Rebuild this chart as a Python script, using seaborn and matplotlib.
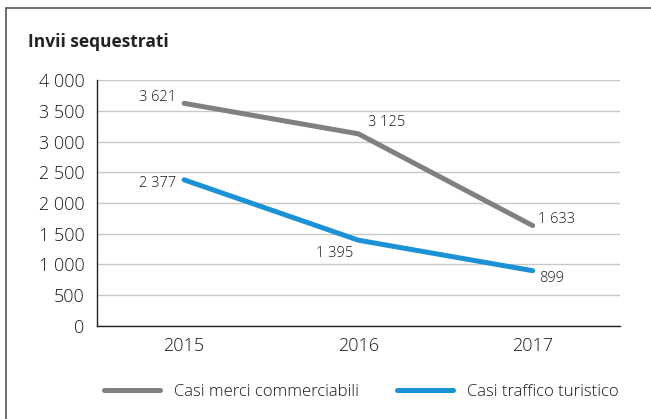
import pandas as pd
import matplotlib.pyplot as plt
import seaborn as sns

# Data
years = ['2015', '2016', '2017']
commerciali = [3621, 3125, 1633]
turistico = [2377, 1395, 899]
series_names = ['Casi merci commerciabili', 'Casi traffico turistico']

df = pd.DataFrame({
    'pos': list(range(len(years))) * 2,
    'valore': commerciali + turistico,
    'serie': [series_names[0]] * 3 + [series_names[1]] * 3,
})

sns.set_style('white')
plt.rcParams['font.family'] = ['Open Sans', 'DejaVu Sans']
plt.rcParams['font.weight'] = 'light'

fig = plt.figure(figsize=(6.51, 4.19), dpi=100)
ax = fig.add_axes([0.149, 0.222, 0.803, 0.587])

palette = {series_names[0]: '#808083', series_names[1]: '#1b91d6'}
sns.lineplot(data=df, x='pos', y='valore', hue='serie', palette=palette,
             linewidth=3.6, ax=ax, legend=True, solid_capstyle='round')

# y axis
ax.set_ylim(0, 4000)
ax.set_yticks(range(0, 4001, 500))
ax.set_yticklabels([f'{v:,}'.replace(',', ' ') for v in range(0, 4001, 500)],
                   fontsize=13, color='#1a1a1a')
ax.yaxis.grid(True, color='#c8c8c8', linewidth=1)
ax.set_axisbelow(True)

# x axis: categories with ticks between them
ax.set_xlim(-0.5, 2.5)
ax.set_xticks([-0.5, 0.5, 1.5, 2.5])
ax.set_xticklabels([])
ax.set_xticks(range(3), minor=True)
ax.set_xticklabels(years, minor=True, fontsize=13, color='#1a1a1a')
ax.tick_params(axis='x', which='minor', length=0, pad=8)
ax.tick_params(axis='x', which='major', length=5, color='#999999', direction='out')
ax.tick_params(axis='y', length=5, color='#999999', direction='out', pad=4)
ax.set_xlabel('')
ax.set_ylabel('')

for s in ['top', 'right']:
    ax.spines[s].set_visible(False)
ax.spines['left'].set_color('#222222')
ax.spines['bottom'].set_color('#222222')
ax.spines['left'].set_linewidth(1)
ax.spines['bottom'].set_linewidth(1)

# data labels
def fmt(v):
    return f'{v:,}'.replace(',', ' ')

lab = dict(fontsize=10.5, color='#1a1a1a')
ax.annotate(fmt(commerciali[0]), (0, commerciali[0]), xytext=(-6, -1),
            textcoords='offset points', ha='right', va='bottom', **lab)
ax.annotate(fmt(commerciali[1]), (1, commerciali[1]), xytext=(7, 3),
            textcoords='offset points', ha='left', va='bottom', **lab)
ax.annotate(fmt(commerciali[2]), (2, commerciali[2]), xytext=(4, -1),
            textcoords='offset points', ha='left', va='bottom', **lab)
ax.annotate(fmt(turistico[0]), (0, turistico[0]), xytext=(-6, -3),
            textcoords='offset points', ha='right', va='center', **lab)
ax.annotate(fmt(turistico[1]), (1, turistico[1]), xytext=(-4, -4),
            textcoords='offset points', ha='right', va='top', **lab)
ax.annotate(fmt(turistico[2]), (2, turistico[2]), xytext=(5, 0),
            textcoords='offset points', ha='left', va='top', **lab)

# legend at the bottom
handles, labels = ax.get_legend_handles_labels()
ax.get_legend().remove()
fig.legend(handles, labels, loc='center', bbox_to_anchor=(0.555, 0.064),
           ncol=2, frameon=False, fontsize=12, handlelength=3.35,
           handletextpad=0.85, columnspacing=2.3)
for t in fig.legends[0].get_texts():
    t.set_color('#1a1a1a')

# title
fig.text(0.043, 0.9, 'Invii sequestrati', fontsize=12.5, fontweight='bold',
         color='#222222', ha='left', va='center')

# frame (top and left edge)
fig.add_artist(plt.Line2D([6 / 651, 1], [1 - 8 / 419, 1 - 8 / 419],
                          transform=fig.transFigure, color='#555555', linewidth=1.2))
fig.add_artist(plt.Line2D([6 / 651, 6 / 651], [0, 1 - 8 / 419],
                          transform=fig.transFigure, color='#555555', linewidth=1.2))

fig.savefig('out.png', dpi=100)
